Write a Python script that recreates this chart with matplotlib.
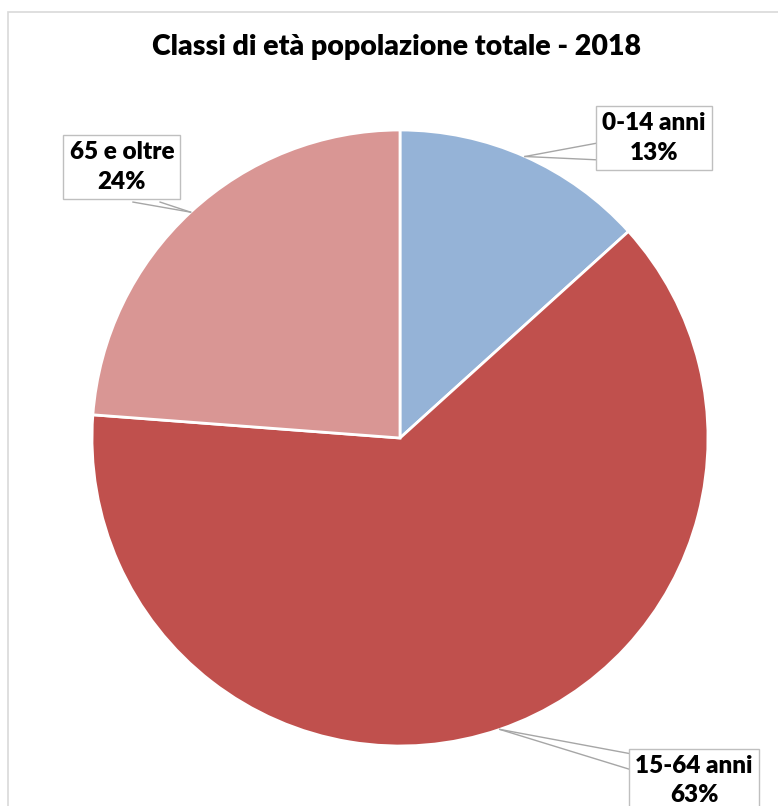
"""Pie chart: classi di età popolazione totale 2018."""

import matplotlib

matplotlib.use("Agg")
import matplotlib.pyplot as plt
import numpy as np
from matplotlib.patches import Rectangle

CATEGORIES = ["0-14 anni", "15-64 anni", "65 e oltre"]
SHARES = [13.3, 62.9, 23.8]
COLORS = ["#95B3D7", "#C0504D", "#D99694"]

TITLE = "Classi di età popolazione totale - 2018"
FONT = ["Lato", "DejaVu Sans"]
LINE = "#A6A6A6"

# label box centres and callout foot points (pie radius units)
LABEL_POS = {
    "0-14 anni": (0.825, 0.974),
    "15-64 anni": (0.955, -1.112),
    "65 e oltre": (-0.903, 0.880),
}
CALLOUT_FEET = {
    "0-14 anni": [(0.643, 0.958), (0.643, 0.903)],
    "15-64 anni": [(0.753, -1.026), (0.753, -1.078)],
    "65 e oltre": [(-0.867, 0.766), (-0.779, 0.766)],
}

W, H = 778, 806
fig = plt.figure(figsize=(W / 100, H / 100), dpi=100)
fig.patches.append(
    Rectangle((8 / W, -0.1), 1.2, 1.1 - 12 / H, transform=fig.transFigure,
              fill=False, edgecolor="#D9D9D9", linewidth=1.2)
)

cx, cy, r = 400, 438, 308
ax = fig.add_axes([(cx - r) / W, (H - cy - r) / H, 2 * r / W, 2 * r / H])
wedges, _ = ax.pie(
    SHARES,
    colors=COLORS,
    startangle=90,
    counterclock=False,
    radius=1.0,
    wedgeprops={"edgecolor": "white", "linewidth": 2},
)
ax.set_xlim(-1, 1)
ax.set_ylim(-1, 1)
ax.axis("off")

total = sum(SHARES)
for wedge, name, share in zip(wedges, CATEGORIES, SHARES):
    mid = np.deg2rad((wedge.theta1 + wedge.theta2) / 2)
    px, py = np.cos(mid), np.sin(mid)
    for fx, fy in CALLOUT_FEET[name]:
        ax.plot([px, fx], [py, fy], color=LINE, linewidth=1.0, clip_on=False, zorder=3)
    tx, ty = LABEL_POS[name]
    ax.text(
        tx, ty, f"{name}\n{round(share / total * 100)}%",
        ha="center", va="center", fontsize=17.5, fontweight="heavy",
        family=FONT, color="#000000", linespacing=1.42, clip_on=False, zorder=4,
        bbox={"boxstyle": "square,pad=0.25", "facecolor": "white",
              "edgecolor": "#BFBFBF", "linewidth": 1.0},
    )

fig.text(397 / W, 1 - 47 / H, TITLE, ha="center", va="center",
         fontsize=20.5, fontweight="heavy", family=FONT, color="#000000")

fig.savefig("out.png", dpi=100, facecolor="white")
